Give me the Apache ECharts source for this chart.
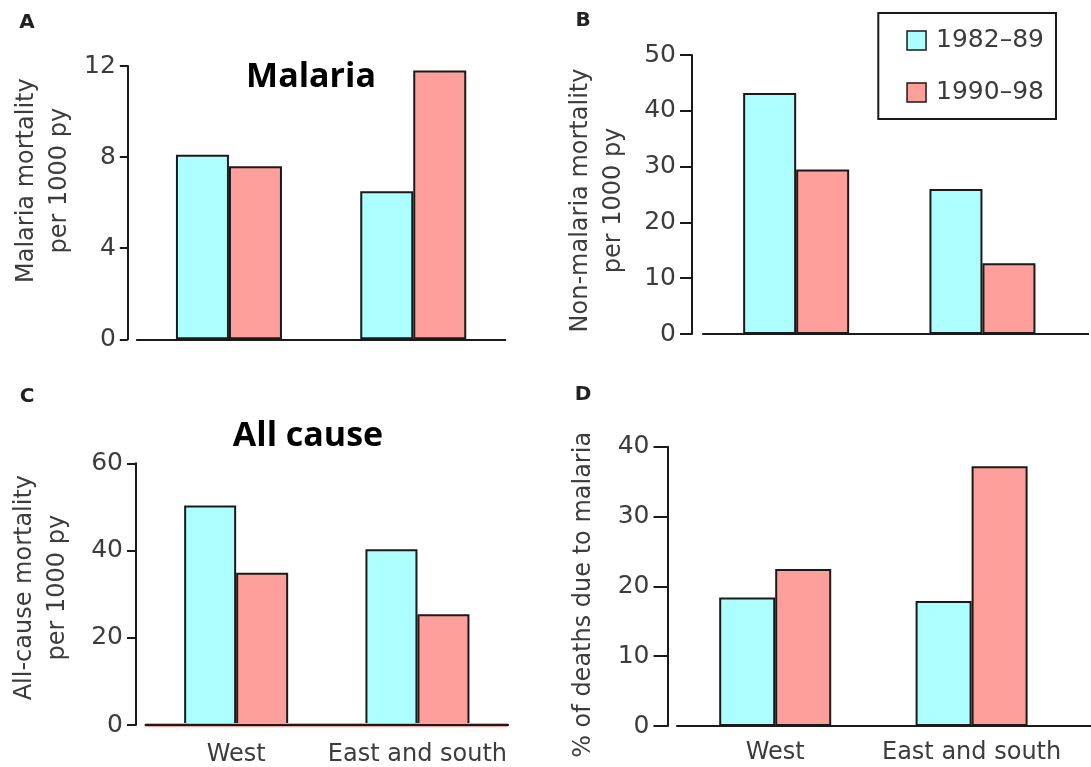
<!DOCTYPE html>
<html>
<head>
<meta charset="utf-8">
<script src="https://cdn.jsdelivr.net/npm/echarts@6/dist/echarts.min.js"></script>
<style>html,body{margin:0;padding:0;background:#fff}#c{width:1091px;height:767px}</style>
</head>
<body>
<div id="c"></div>
<script>
// ---- data ----
const categories = ['West', 'East and south'];
const periods = ['1982–89', '1990–98'];
const malaria8289 = [8.1, 6.5];
const malaria9098 = [7.6, 11.8];
const nonMalaria8289 = [43.2, 26.0];
const nonMalaria9098 = [29.5, 12.7];
const allCause8289 = [50.3, 40.3];
const allCause9098 = [34.9, 25.4];
const pctMalaria8289 = [18.4, 17.9];
const pctMalaria9098 = [22.5, 37.2];
const panelMax = [12, 50, 60, 40];
const panelInterval = [4, 10, 20, 10];
const panelNames = ['Malaria mortality\nper 1000 py', 'Non-malaria mortality\nper 1000 py', 'All-cause mortality\nper 1000 py', '% of deaths due to malaria'];
const panelLetters = ['A', 'B', 'C', 'D'];
const panelTitles = ['Malaria', 'All cause'];

// ---- styles ----
const CYAN = '#adffff', PINK = '#ff9f9b', INK = '#1a1a1a', TXT = '#3c3c3c';
const FONT = 'DejaVu Sans';

const grids = [
  {left: 136.8, top: 66, width: 368.6, height: 273.3},
  {left: 703, top: 55, width: 372.6, height: 279},
  {left: 145.5, top: 463.3, width: 362.6, height: 262.4},
  {left: 677, top: 446.7, width: 392.8, height: 279.3}
];
const yOffsets = [9, 11, 9.5, 9.5];
const tickLens = [8, 12, 9, 14];
const nameGaps = [52, 62, 62, 67];
const namePads = [[0,0,0,44],[0,12,0,0],[0,0,0,13],[0,17,0,0]];
const barWidths = [53, 53, 52, 56];
const values = [
  [malaria8289, malaria9098],
  [nonMalaria8289, nonMalaria9098],
  [allCause8289, allCause9098],
  [pctMalaria8289, pctMalaria9098]
];

const xAxes = grids.map((g, i) => ({
  type: 'category', gridIndex: i, data: categories, z: 10,
  axisLine: {lineStyle: {color: INK, width: 2}},
  axisTick: {show: false},
  axisLabel: {show: i >= 2, interval: 0, color: TXT, fontFamily: FONT, fontSize: 24, margin: i === 2 ? 18 : 15}
}));
const yAxes = grids.map((g, i) => ({
  type: 'value', gridIndex: i, min: 0, max: panelMax[i], interval: panelInterval[i],
  offset: yOffsets[i],
  axisLine: {show: true, lineStyle: {color: INK, width: 2}},
  axisTick: {show: true, length: tickLens[i], lineStyle: {color: INK, width: 2}},
  splitLine: {show: false},
  axisLabel: {color: TXT, fontFamily: FONT, fontSize: 25, margin: tickLens[i] + 4},
  name: panelNames[i], nameLocation: 'middle', nameRotate: 90, nameGap: nameGaps[i],
  nameTextStyle: {color: TXT, fontFamily: FONT, fontSize: 24, lineHeight: 33, padding: namePads[i]}
}));
const series = [];
grids.forEach((g, i) => {
  [0, 1].forEach(k => {
    const s = {
      type: 'bar', name: periods[k], xAxisIndex: i, yAxisIndex: i,
      data: values[i][k], barWidth: barWidths[i], barGap: '0%',
      itemStyle: {color: k === 0 ? CYAN : PINK, borderColor: INK, borderWidth: 2},
      emphasis: {disabled: true}, silent: true
    };
    if (i === 2 && k === 1) {
      s.markLine = {silent: true, symbol: 'none', label: {show: false},
        lineStyle: {color: PINK, width: 4, type: 'solid'}, data: [{yAxis: 0}]};
    }
    series.push(s);
  });
});

const letterPos = [[27, 23], [583, 21], [27, 397], [583, 395]];
const graphics = panelLetters.map((t, i) => ({
  type: 'text', x: letterPos[i][0], y: letterPos[i][1],
  style: {text: t, font: 'bold 20px "DejaVu Sans"', fill: '#222', align: 'center', verticalAlign: 'middle'}
}));
graphics.push({type: 'text', x: 311, y: 77, style: {text: panelTitles[0], font: 'bold 34px "Open Sans"', fill: '#000', align: 'center', verticalAlign: 'middle'}});
graphics.push({type: 'text', x: 308, y: 436, style: {text: panelTitles[1], font: 'bold 34px "Open Sans"', fill: '#000', align: 'center', verticalAlign: 'middle'}});
// axis-line extensions to the right edge (panels B and D)
graphics.push({type: 'line', shape: {x1: 1040, y1: 334, x2: 1089, y2: 334}, style: {stroke: INK, lineWidth: 2}});
graphics.push({type: 'line', shape: {x1: 1040, y1: 726, x2: 1091, y2: 726}, style: {stroke: INK, lineWidth: 2}});

const chart = echarts.init(document.getElementById('c'), null, {renderer: 'canvas'});
chart.setOption({
  animation: false,
  backgroundColor: '#fff',
  grid: grids,
  xAxis: xAxes,
  yAxis: yAxes,
  legend: {
    data: periods, orient: 'vertical', left: 878.3, top: 13,
    padding: [15, 12, 14, 28], itemGap: 27, itemWidth: 19, itemHeight: 19,
    borderColor: INK, borderWidth: 2, icon: 'rect',
    textStyle: {color: TXT, fontFamily: FONT, fontSize: 25, lineHeight: 19, padding: [0, 0, 0, 5]},
    itemStyle: {borderColor: INK, borderWidth: 1.5},
    selectedMode: false
  },
  series: series,
  graphic: graphics
});
</script>
</body>
</html>
